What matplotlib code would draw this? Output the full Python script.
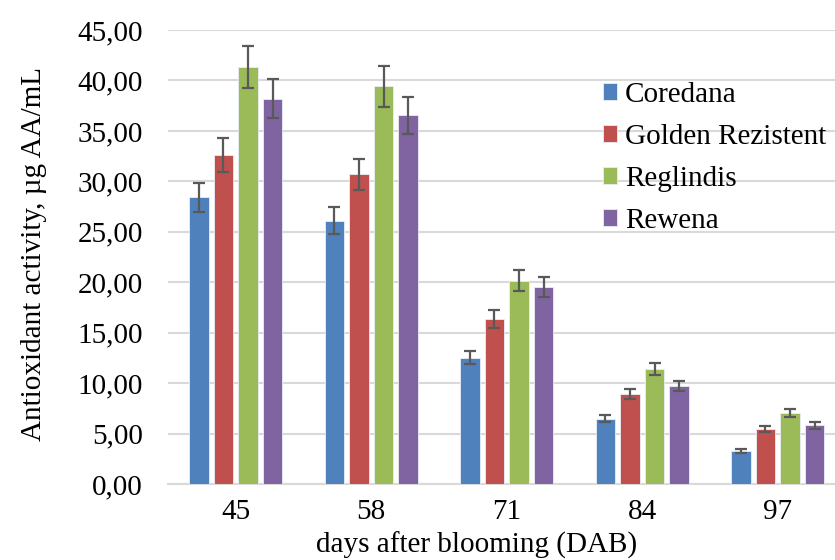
import matplotlib.pyplot as plt
import numpy as np

# datos
dias = ['45', '58', '71', '84', '97']
soiuri = ['Coredana', 'Golden Rezistent', 'Reglindis', 'Rewena']
culori = ['#4F81BD', '#C0504D', '#9BBB59', '#8064A2']

coredana = [28.4, 26.1, 12.5, 6.45, 3.25]
golden = [32.6, 30.7, 16.35, 8.9, 5.45]
reglindis = [41.35, 39.4, 20.15, 11.4, 7.05]
rewena = [38.2, 36.55, 19.5, 9.7, 5.8]

err_coredana = [1.4, 1.35, 0.65, 0.35, 0.2]
err_golden = [1.65, 1.55, 0.85, 0.47, 0.3]
err_reglindis = [2.07, 2.0, 1.03, 0.6, 0.37]
err_rewena = [1.9, 1.85, 0.97, 0.5, 0.33]

valori = [coredana, golden, reglindis, rewena]
erori = [err_coredana, err_golden, err_reglindis, err_rewena]

plt.rcParams['font.family'] = ['Liberation Serif', 'DejaVu Serif']
fs = 21

fig = plt.figure(figsize=(8.35, 5.6), dpi=100)
ax = fig.add_axes([168 / 835, 1 - 484 / 560, (835 - 168) / 835, (484 - 30) / 560])

x = np.arange(len(dias))
pas = 0.181
latime = 0.143
for j in range(4):
    ax.bar(x + (j - 1.5) * pas, valori[j], width=latime, color=culori[j],
           edgecolor='#e8eef6', linewidth=0.6, label=soiuri[j], zorder=3,
           yerr=erori[j], error_kw=dict(ecolor='#595959', elinewidth=1.6,
                                        capsize=4.2, capthick=1.6, zorder=4))

ax.set_xlim(-0.5, -0.5 + (835 - 168) / 135.5)
ax.set_ylim(0, 45)
ax.set_yticks(np.arange(0, 46, 5))
ax.set_yticklabels([f'{v:.2f}'.replace('.', ',') for v in np.arange(0, 46, 5)], fontsize=fs)
ax.set_xticks(x)
ax.set_xticklabels(dias, fontsize=fs)
ax.tick_params(axis='both', length=0)
ax.tick_params(axis='y', pad=18)
ax.tick_params(axis='x', pad=11)
ax.grid(axis='y', color='#d9d9d9', linewidth=1.5, zorder=0)
for s in ['top', 'right', 'left']:
    ax.spines[s].set_visible(False)
ax.spines['bottom'].set_color('#d9d9d9')
ax.spines['bottom'].set_linewidth(1.5)

fig.text(34 / 835, 1 - 254 / 560, 'Antioxidant activity, µg AA/mL', rotation=90,
         ha='center', va='center', fontsize=fs)
# titlul axei x, tinut in interiorul figurii
fig.text(477 / 835, 1 / 560, 'days after blooming (DAB)',
         ha='center', va='bottom', fontsize=fs)

ax.legend(loc='upper left', bbox_to_anchor=(588 / 835, 1 - 67 / 560),
          bbox_transform=fig.transFigure, frameon=False, fontsize=fs,
          handlelength=0.51, handleheight=0.51, handletextpad=0.25,
          labelspacing=0.55, borderpad=0)

plt.savefig('out.png', dpi=100)
